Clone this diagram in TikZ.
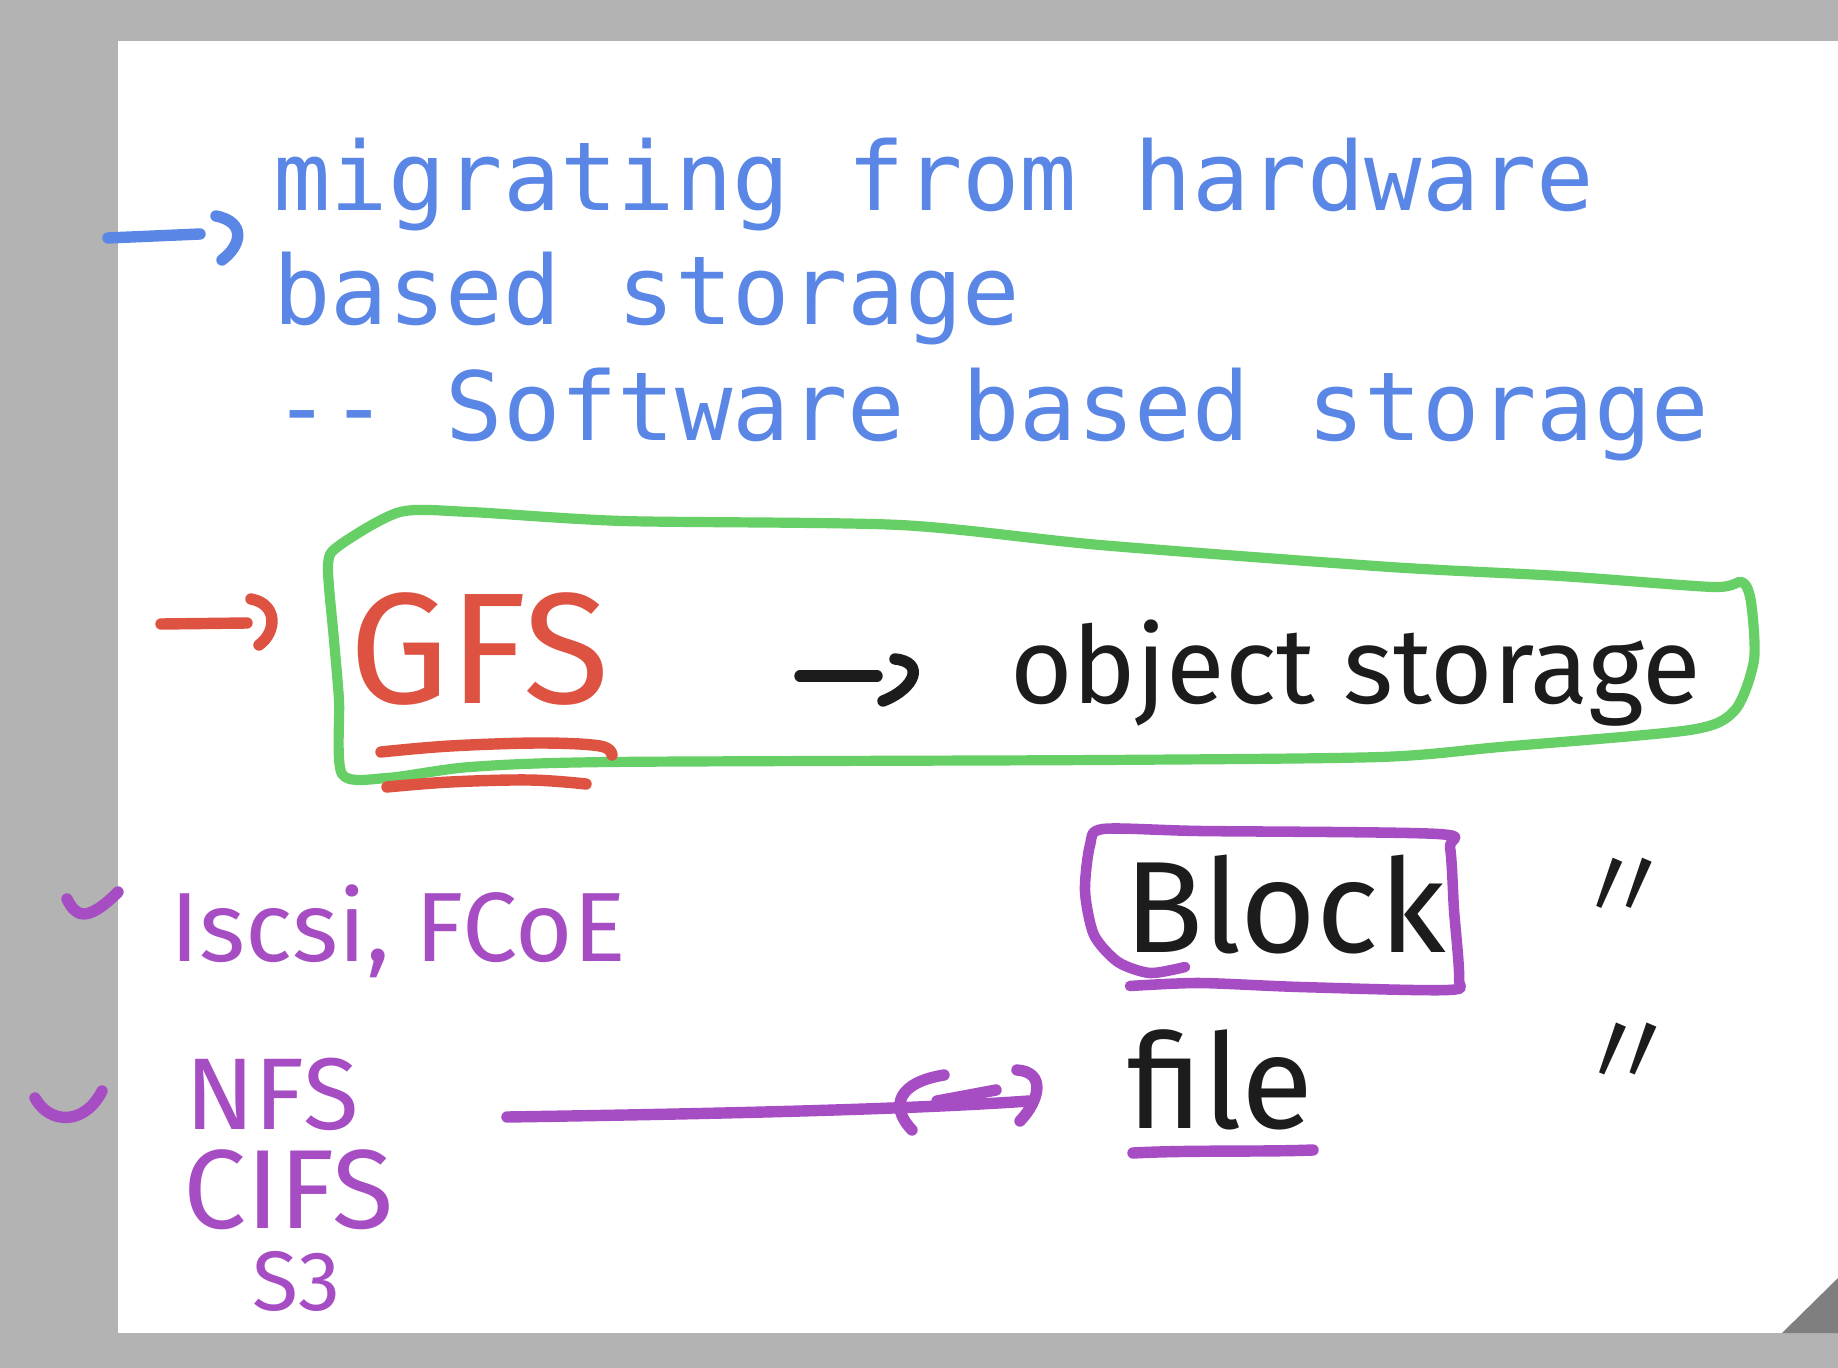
\documentclass[tikz,border=0pt]{standalone}
\usepackage{fontspec}
\usepackage{tikz}
\newfontfamily\monofont{DejaVu Sans Mono}
\newfontfamily\handfont{Fira Sans}
\newfontfamily\dittofont{Noto Sans CJK JP}
\definecolor{azul}{HTML}{5A86E6}
\definecolor{rojo}{HTML}{DE5242}
\definecolor{verde}{HTML}{66CF66}
\definecolor{morado}{HTML}{A64DC4}
\definecolor{tinta}{HTML}{1C1C1C}
\definecolor{fondo}{HTML}{B3B3B3}
\definecolor{esquina}{HTML}{7F7F7F}
\tikzset{
  tipeado/.style={anchor=base west, inner sep=0pt, text=azul,
    font=\monofont\fontsize{54.3}{60}\selectfont},
  escrito/.style={anchor=base west, inner sep=0pt},
  trazo/.style={line width=6.5pt, line cap=round, line join=round},
}

\begin{document}
\begin{tikzpicture}[x=0.02cm, y=-0.02cm] % 1 unidad = 1 pixel
    % Hoja y margen gris
    \fill[fondo] (0,0) rectangle (1838,1368);
    \useasboundingbox (0,0) rectangle (1838,1368);
    \fill[white] (118,41) rectangle (1838,1333);
    \fill[esquina] (1782,1333) -- (1838,1333) -- (1838,1278) -- cycle;

    % Texto tipeado
    \node[tipeado] (linea1) at (273,211) {migrating from hardware};
    \node[tipeado] (linea2) at (273,325) {based storage};
    \node[tipeado] (linea3) at (273,440) {-- Software based storage};
    \coordinate (flechaazul) at (108,238);
    \draw[trazo, draw=azul] (flechaazul) -- (200,234);
    \draw[trazo, draw=azul] (216,216) .. controls (246,222) and (242,245) .. (222,260);

    % GFS y object storage
    \draw[verde, line width=5.8pt, line join=round]
      plot[smooth cycle, tension=0.45] coordinates {
        (328,565) (340,545) (400,512) (470,512) (623,521) (900,525)
        (1100,545) (1390,567) (1560,576) (1713,587) (1742,582) (1751,602)
        (1754,660) (1735,710) (1690,730) (1500,747) (1380,757) (1100,760)
        (610,762) (470,767) (387,778) (342,774) (339,700) (334,640)};
    \node[escrito, text=rojo, font=\handfont\fontsize{90}{90}\selectfont] (gfs) at (349,703) {GFS};
    \coordinate (flecharoja) at (161,624);
    \draw[trazo, draw=rojo] (flecharoja) -- (247,623);
    \draw[trazo, draw=rojo] (251,599) .. controls (278,604) and (277,632) .. (259,645);
    \draw[trazo, draw=rojo] plot[smooth, tension=0.6] coordinates {(381,752) (450,746) (540,743) (600,746) (612,755)};
    \draw[trazo, draw=rojo] plot[smooth, tension=0.6] coordinates {(387,787) (450,782) (530,780) (586,784)};
    \node[escrito, text=tinta, font=\handfont\fontsize{61}{61}\selectfont] (objeto) at (1010,703) {object storage};
    \coordinate (flechanegra) at (800,676);
    \draw[trazo, draw=tinta] (flechanegra) -- (877,676);
    \draw[trazo, draw=tinta] (895,659) .. controls (925,662) and (916,688) .. (883,701);

    % Block y file
    \draw[morado, line width=6pt, line cap=round, line join=round]
      plot[smooth, tension=0.45] coordinates {
        (1130,986) (1199,983) (1300,987) (1448,990) (1459,978) (1454,910)
        (1450,848) (1438,834) (1200,831) (1103,829) (1090,845) (1085,891)
        (1094,935) (1118,962) (1150,973) (1185,967)};
    \node[escrito, text=tinta, font=\handfont\fontsize{74}{74}\selectfont] (block) at (1124,952) {Block};
    \node[escrito, text=tinta, font=\handfont\fontsize{75}{75}\selectfont] (file) at (1127,1128) {file};
    \draw[trazo, draw=morado] (1133,1153) .. controls (1190,1150) and (1260,1152) .. (1313,1150);
    \node[escrito, text=tinta, font=\dittofont\fontsize{58}{58}\selectfont] (ditto1) at (1573,921) {〃};
    \node[escrito, text=tinta, font=\dittofont\fontsize{60}{60}\selectfont] (ditto2) at (1575,1088) {〃};

    % Protocolos
    \draw[trazo, draw=morado] (67,899) .. controls (75,915) and (85,925) .. (118,892);
    \draw[trazo, draw=morado] (35,1098) .. controls (50,1125) and (85,1125) .. (102,1091);
    \node[escrito, text=morado, font=\handfont\fontsize{56}{56}\selectfont] (iscsi) at (170,961) {Iscsi, FCoE};
    \node[escrito, text=morado, font=\handfont\fontsize{58}{58}\selectfont] (nfs) at (185,1129) {NFS};
    \node[escrito, text=morado, font=\handfont\fontsize{64}{64}\selectfont] (cifs) at (183,1228) {CIFS};
    \node[escrito, text=morado, font=\handfont\fontsize{48}{48}\selectfont] (s3) at (252,1310) {S3};
    \coordinate (inicio) at (507,1117);
    \coordinate (fin) at (1029,1101);
    \draw[trazo, draw=morado] (inicio) .. controls (700,1114) and (900,1110) .. (fin);
    \draw[trazo, draw=morado] (944,1075) .. controls (900,1082) and (888,1105) .. (912,1130);
    \draw[trazo, draw=morado] (937,1101) -- (996,1090);
    \draw[trazo, draw=morado] (1017,1070) .. controls (1046,1072) and (1040,1100) .. (1020,1121);
\end{tikzpicture}
\end{document}
